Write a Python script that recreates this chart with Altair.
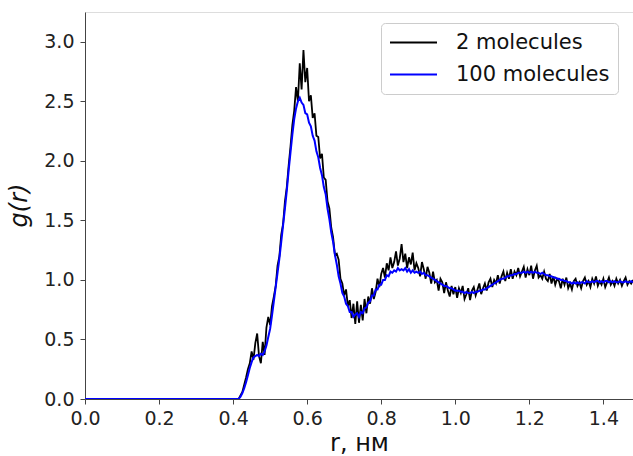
import altair as alt
import pandas as pd

# r grid (nm): a point at r=0, then 0.400 ... 1.480 every 0.005
r_start = 0.40
r_step = 0.005

g_two = [
    0.00, 0.00, 0.00, 0.00, 0.03, 0.06, 0.12, 0.18, 0.25, 0.30,
    0.40, 0.33, 0.47, 0.55, 0.36, 0.30, 0.48, 0.37, 0.60, 0.69,
    0.62, 0.78, 0.86, 0.95, 1.12, 1.20, 1.38, 1.47, 1.66, 1.78,
    1.96, 2.12, 2.30, 2.42, 2.62, 2.50, 2.82, 2.60, 2.93, 2.66,
    2.78, 2.50, 2.55, 2.36, 2.40, 2.21, 2.20, 2.02, 2.06, 1.86,
    1.84, 1.66, 1.60, 1.44, 1.36, 1.21, 1.22, 1.17, 1.01, 0.97,
    0.87, 0.92, 0.78, 0.83, 0.68, 0.80, 0.63, 0.82, 0.64, 0.79,
    0.66, 0.84,
    0.72, 0.86, 0.80, 0.93, 0.84, 0.90, 1.01, 0.94, 1.05, 1.10,
    1.02, 1.14, 1.08, 1.19, 1.10, 1.15, 1.24, 1.12, 1.18, 1.30,
    1.15, 1.22, 1.10, 1.19, 1.13, 1.23, 1.08, 1.14, 1.10, 1.03,
    1.15, 1.09, 1.01, 1.11,
    1.06, 0.97, 1.07, 0.98, 1.00, 0.91, 1.01, 0.98, 0.89, 0.98,
    0.91, 0.86, 0.95, 0.88, 0.94, 0.85, 0.93, 0.89, 0.95, 0.84,
    0.88, 0.93, 0.83, 0.91, 0.94, 0.87, 0.92, 0.97, 0.88, 0.93,
    0.97, 0.91, 0.98, 1.01, 0.94, 1.00, 0.97, 1.04, 0.97, 1.03,
    1.07, 0.99, 1.06, 1.01, 1.09, 1.01, 1.07, 1.04, 1.10, 1.03,
    1.07, 1.11, 1.02, 1.09, 1.04, 1.12, 1.01, 1.08, 1.12, 1.02,
    1.04, 1.01, 1.07, 1.01, 0.99, 1.05, 0.97, 1.03, 0.96, 1.01,
    0.99, 0.93, 1.01, 0.96, 1.02, 0.93,
    0.97, 0.92, 0.99, 1.01, 0.95, 0.98, 0.93, 0.99, 1.02, 0.96,
    0.99, 0.94, 1.01, 0.97, 1.03, 0.95, 0.99, 0.96, 1.01, 0.94,
    0.98, 1.02, 0.96, 0.99, 0.95, 1.01, 0.97, 1.00, 0.95, 0.99,
    1.02, 0.96, 0.99, 0.97, 1.00,
]

g_hundred = [
    0.00, 0.00, 0.00, 0.00, 0.02, 0.05, 0.09, 0.14, 0.20, 0.26,
    0.31, 0.35, 0.36, 0.37, 0.36, 0.38, 0.37, 0.40, 0.45, 0.52,
    0.59, 0.70, 0.82, 0.94, 1.06, 1.18, 1.32, 1.46, 1.60, 1.75,
    1.92, 2.07, 2.22, 2.35, 2.44, 2.50, 2.53, 2.49, 2.47, 2.40,
    2.39, 2.32, 2.29, 2.21, 2.17, 2.08, 2.03, 1.94, 1.88, 1.78,
    1.72, 1.60, 1.51, 1.40, 1.32, 1.21, 1.13, 1.03, 0.97, 0.89,
    0.86, 0.80, 0.78, 0.73, 0.73, 0.69, 0.71, 0.72, 0.69, 0.73,
    0.72, 0.76, 0.77, 0.81, 0.82, 0.87, 0.87, 0.92, 0.92, 0.96,
    0.96, 1.00, 1.00, 1.04, 1.03, 1.07, 1.06, 1.08, 1.07, 1.10,
    1.08, 1.09, 1.08, 1.10, 1.07, 1.09, 1.06, 1.08, 1.06, 1.07,
    1.06, 1.07, 1.05, 1.06, 1.04, 1.04,
    1.03, 1.02, 1.01, 1.00, 0.99, 0.98, 0.97, 0.96, 0.95, 0.95,
    0.94, 0.93, 0.93, 0.92, 0.91, 0.91, 0.91, 0.90, 0.90, 0.89,
    0.90, 0.89, 0.89, 0.90, 0.89, 0.90, 0.90, 0.91, 0.91, 0.92,
    0.92, 0.93, 0.94, 0.95, 0.96, 0.97, 0.98, 0.99, 1.00, 1.01,
    1.01, 1.02, 1.03, 1.03, 1.04, 1.04, 1.05, 1.05, 1.06, 1.06,
    1.06, 1.07, 1.06, 1.07, 1.06, 1.07, 1.06, 1.07, 1.06, 1.06,
    1.05, 1.06, 1.05, 1.04, 1.04, 1.03, 1.03, 1.02, 1.02, 1.01,
    1.01, 1.00, 1.00, 0.99, 0.99, 0.98,
    0.98, 0.97, 0.98, 0.97, 0.98, 0.97, 0.98, 0.98, 0.97, 0.99,
    0.98, 0.98, 0.99, 0.98, 0.99, 0.99, 0.98, 0.99, 0.98, 0.99,
    0.99, 0.98, 0.99, 0.98, 0.99, 0.98, 0.98, 0.99, 0.98, 0.98,
    0.99, 0.98, 0.98, 0.99, 0.98,
]

series_names = ["2 molecules", "100 molecules"]
series_colors = ["#000000", "#0000ff"]
x_ticks = [0.0, 0.2, 0.4, 0.6, 0.8, 1.0, 1.2, 1.4]
y_ticks = [0.0, 0.5, 1.0, 1.5, 2.0, 2.5, 3.0]


def make_frame(values, name):
    rs = [0.0] + [round(r_start + r_step * i, 3) for i in range(len(values))]
    gs = [0.0] + list(values)
    return pd.DataFrame({"r": rs, "g": gs, "series": name})


df_two = make_frame(g_two, series_names[0])
df_hundred = make_frame(g_hundred, series_names[1])

FONT = "DejaVu Sans"

x_enc = alt.X(
    "r:Q",
    scale=alt.Scale(domain=[0, 1.48], nice=False, zero=False),
    axis=alt.Axis(
        values=x_ticks, format=".1f", grid=False,
        title="r, нм", titleFontSize=24, titleFont=FONT, titleFontWeight="normal",
        titleColor="#111111", titleX=274, titleY=51, titleAlign="center",
        titleBaseline="alphabetic",
        labelFontSize=19, labelFont=FONT, labelColor="#222222", labelPadding=5,
        tickSize=5, tickColor="#444444", domainColor="#444444", labelFlush=False,
    ),
)
y_enc = alt.Y(
    "g:Q",
    scale=alt.Scale(domain=[0, 3.25], nice=False),
    axis=alt.Axis(
        values=y_ticks, format=".1f", grid=False,
        title="g(r)", titleFontSize=24, titleFont=FONT, titleFontStyle="italic",
        titleFontWeight="normal", titleColor="#111111",
        titleAngle=270, titleX=-66, titleY=193, titleAlign="center",
        titleBaseline="middle",
        labelFontSize=19, labelFont=FONT, labelColor="#222222", labelPadding=6,
        tickSize=5, tickColor="#444444", domainColor="#444444", labelFlush=False,
    ),
)
color_enc = alt.Color(
    "series:N",
    scale=alt.Scale(domain=series_names, range=series_colors),
    legend=alt.Legend(
        title=None, orient="none", legendX=296, legendY=11,
        symbolType="stroke", symbolSize=2209, symbolStrokeWidth=2,
        labelFontSize=21, labelFont=FONT, labelColor="#111111", labelOffset=18,
        clipHeight=23, rowPadding=9, padding=8,
        strokeColor="#cccccc", fillColor="#ffffff", cornerRadius=4,
    ),
)

line_two = alt.Chart(df_two).mark_line(strokeWidth=1.8, clip=True).encode(
    x=x_enc, y=y_enc, color=color_enc
)
line_hundred = alt.Chart(df_hundred).mark_line(strokeWidth=2, clip=True).encode(
    x=x_enc, y=y_enc, color=color_enc
)

chart = (
    alt.layer(line_two, line_hundred)
    .properties(
        width=548, height=387,
        autosize=alt.AutoSizeParams(type="none"),
        padding={"left": 85, "top": 12, "right": 0, "bottom": 57},
    )
    .configure_view(stroke="#444444", strokeWidth=1)
    .configure(background="white")
)

chart.save("out.html", embed_options={"renderer": "svg", "actions": False})
